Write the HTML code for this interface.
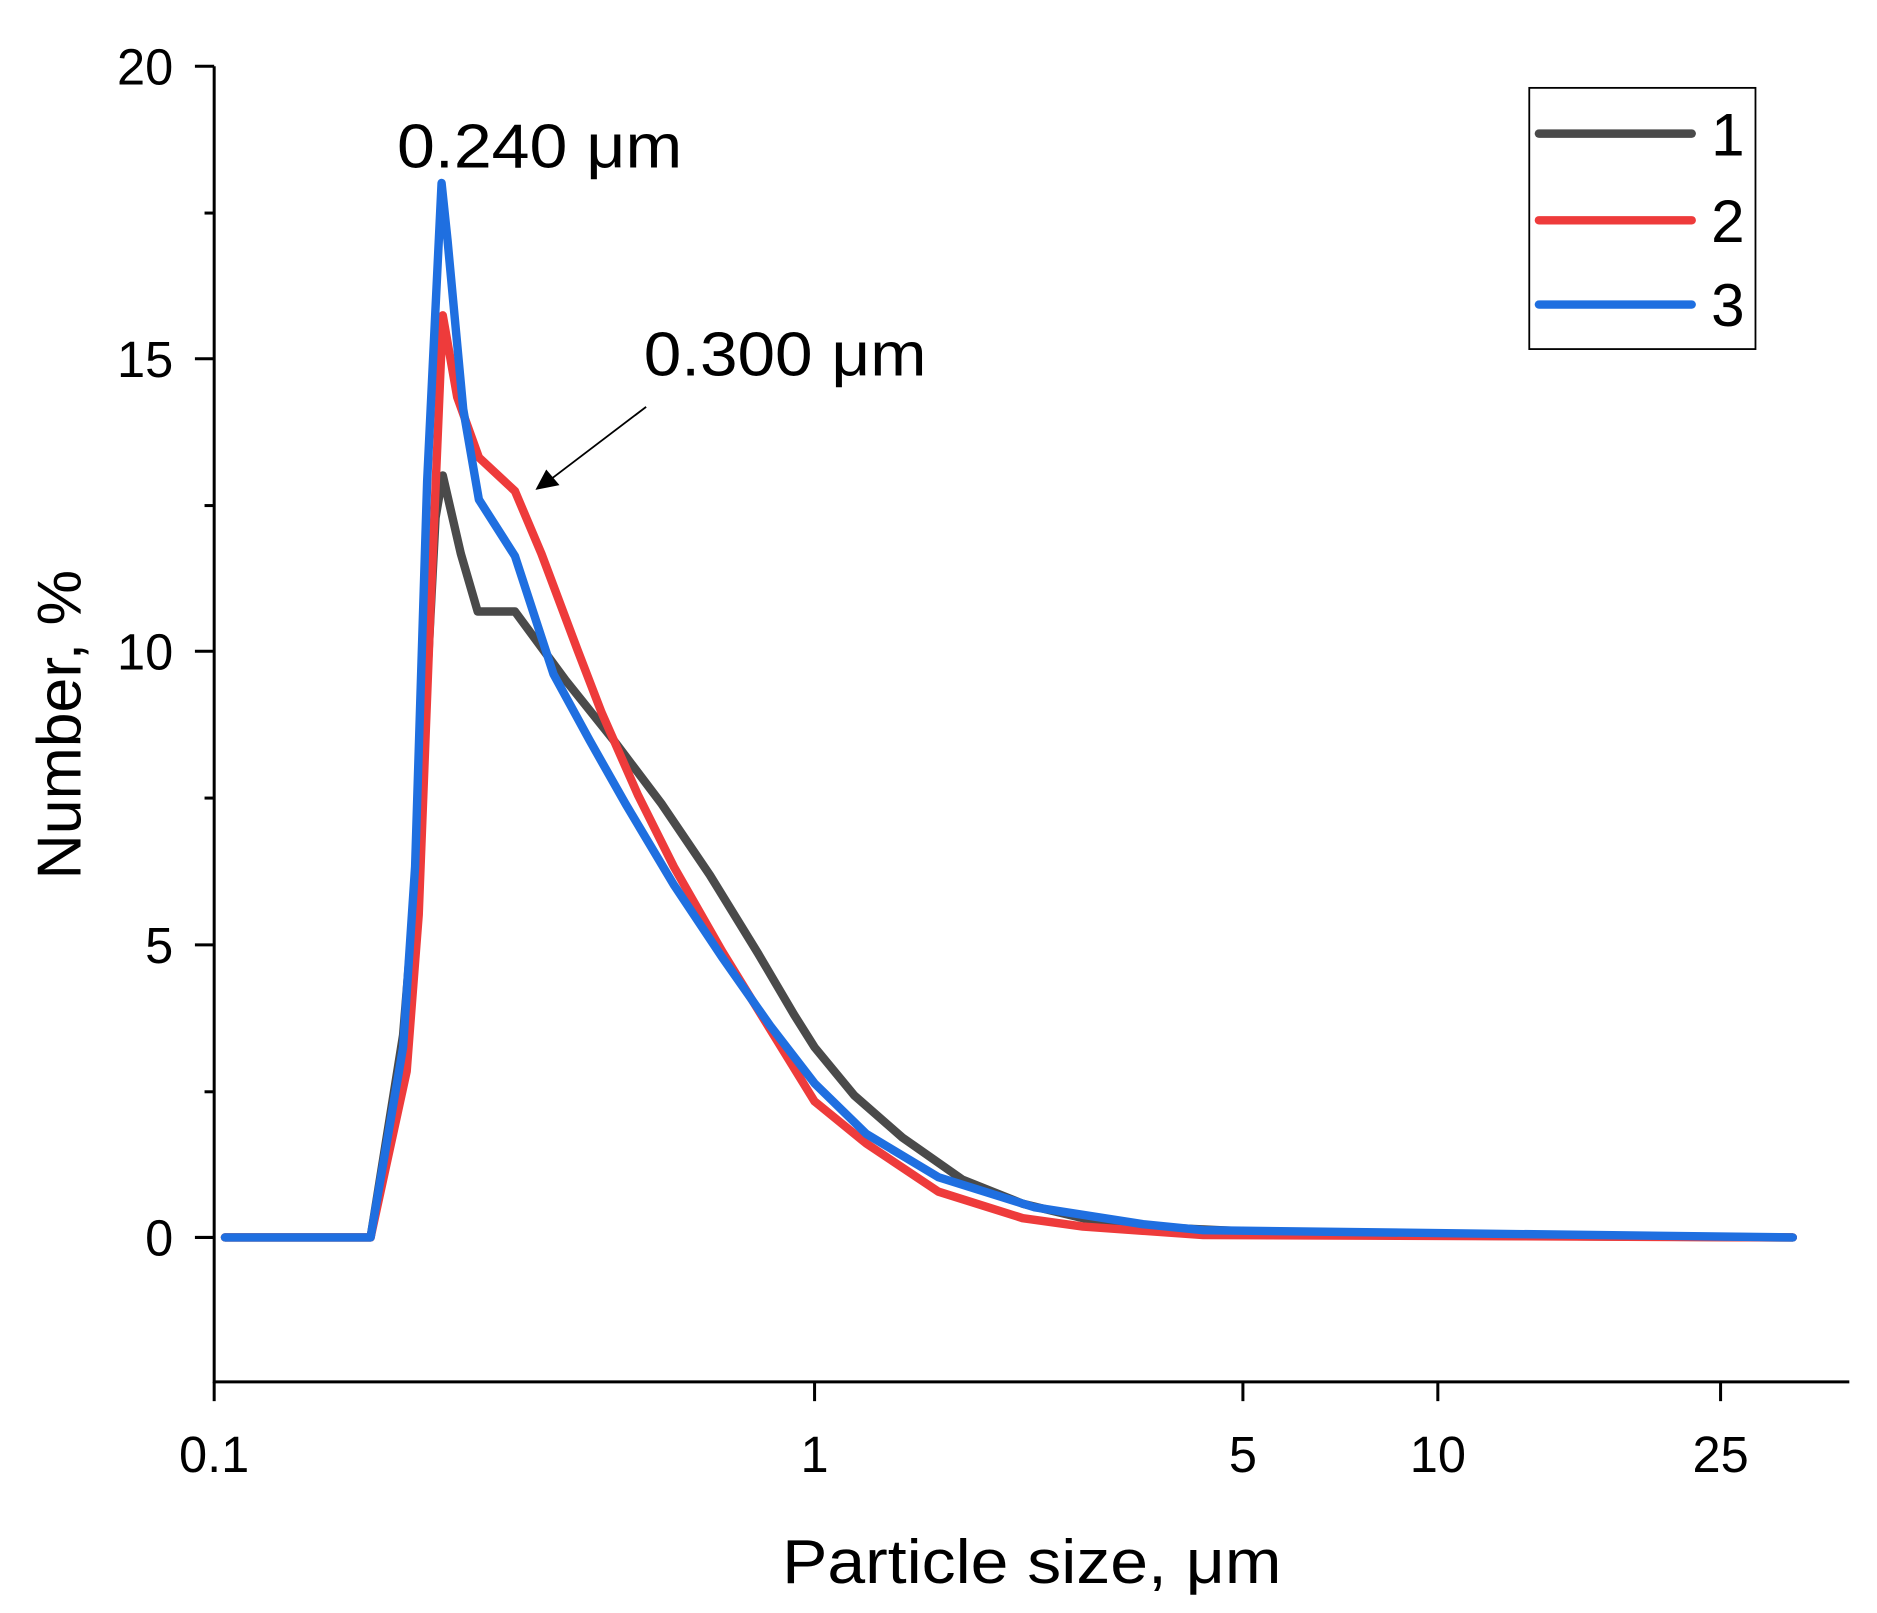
<!DOCTYPE html>
<html><head><style>html,body{margin:0;padding:0;background:#fff}svg{display:block}</style></head>
<body>
<svg width="1877" height="1613" viewBox="0 0 1560 1340" preserveAspectRatio="none" xmlns="http://www.w3.org/2000/svg" font-family="Liberation Sans, sans-serif">
<rect width="1560" height="1340" fill="#fff"/>
<g stroke="#000" stroke-width="2.5" fill="none">
<line x1="178" y1="55" x2="178" y2="1149"/>
<line x1="177" y1="1148" x2="1537" y2="1148"/>
<line x1="162" y1="55" x2="178" y2="55"/><line x1="162" y1="298" x2="178" y2="298"/><line x1="162" y1="541" x2="178" y2="541"/><line x1="162" y1="785" x2="178" y2="785"/><line x1="162" y1="1028" x2="178" y2="1028"/>
<line x1="170" y1="177" x2="178" y2="177"/><line x1="170" y1="420" x2="178" y2="420"/><line x1="170" y1="663" x2="178" y2="663"/><line x1="170" y1="907" x2="178" y2="907"/>
<line x1="178" y1="1148" x2="178" y2="1164"/><line x1="677" y1="1148" x2="677" y2="1164"/><line x1="1033" y1="1148" x2="1033" y2="1164"/><line x1="1195" y1="1148" x2="1195" y2="1164"/><line x1="1430" y1="1148" x2="1430" y2="1164"/>
</g>
<g font-size="42" text-anchor="end" fill="#000">
<text x="144" y="70">20</text><text x="144" y="313">15</text><text x="144" y="556">10</text><text x="144" y="800">5</text><text x="144" y="1043">0</text>
</g>
<g font-size="42" text-anchor="middle" fill="#000">
<text x="178" y="1223">0.1</text><text x="677" y="1223">1</text><text x="1033" y="1223">5</text><text x="1195" y="1223">10</text><text x="1430" y="1223">25</text>
</g>
<text x="650" y="1315" font-size="52" textLength="415" lengthAdjust="spacingAndGlyphs">Particle size, μm</text>
<text transform="translate(67,602) rotate(-90)" font-size="52" text-anchor="middle">Number, %</text>
<g fill="none" stroke-width="7" stroke-linejoin="round" stroke-linecap="round">
<polyline stroke="#4a4a4a" points="187,1028 308,1028 335,860 348,700 362,430 368,395 383,460 397,508 428,508 470,565 510,615 550,668 590,727 630,792 660,843 677,870 710,910 750,945 800,980 850,1000 900,1012 950,1019 1100,1026 1490,1028"/>
<polyline stroke="#ee3b3b" points="187,1028 308,1028 338,890 348,760 358,500 368,262 380,330 398,380 428,408 450,460 480,540 500,592 530,660 560,720 600,790 640,855 677,915 720,950 780,990 850,1012 900,1019 1000,1026 1490,1028"/>
<polyline stroke="#1f6fe0" points="187,1028 308,1028 335,870 345,720 355,400 367,152 372,200 385,340 398,415 428,462 460,560 490,615 520,668 560,735 600,795 640,852 677,900 720,942 780,978 860,1003 950,1017 1000,1022 1490,1028"/>
</g>
<rect x="1271" y="73" width="188" height="217" fill="none" stroke="#000" stroke-width="1.5"/>
<g stroke-width="7" stroke-linecap="round">
<line x1="1279" y1="111" x2="1406" y2="111" stroke="#4a4a4a"/>
<line x1="1279" y1="183" x2="1406" y2="183" stroke="#ee3b3b"/>
<line x1="1279" y1="253" x2="1406" y2="253" stroke="#1f6fe0"/>
</g>
<g font-size="50" text-anchor="middle"><text x="1436" y="129">1</text><text x="1436" y="201">2</text><text x="1436" y="271">3</text></g>
<text x="330" y="139" font-size="52" textLength="237" lengthAdjust="spacingAndGlyphs">0.240 μm</text>
<text x="535" y="312" font-size="52" textLength="235" lengthAdjust="spacingAndGlyphs">0.300 μm</text>
<line x1="537" y1="338" x2="458" y2="398" stroke="#000" stroke-width="1.5"/>
<polygon points="445,407 454,390 465,403" fill="#000"/>
</svg>
</body></html>
